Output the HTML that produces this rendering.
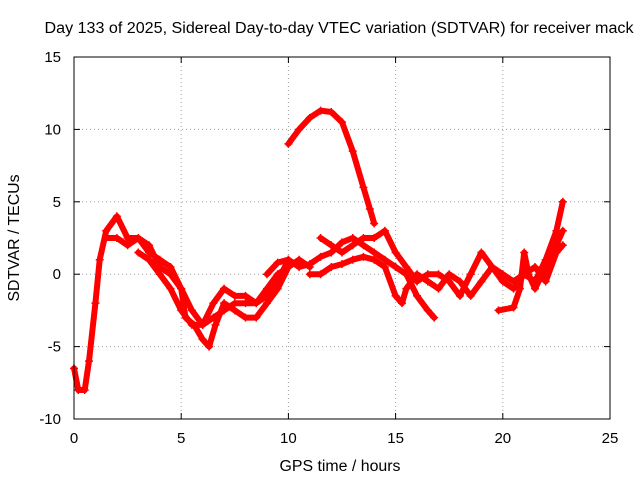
<!DOCTYPE html>
<html><head><meta charset="utf-8"><style>
html,body{margin:0;padding:0;background:#fff;}
svg{display:block;font-family:"Liberation Sans",sans-serif;}
</style></head><body>
<svg id="chart" width="640" height="480">
<text x="339" y="33" font-size="15.5" text-anchor="middle" textLength="589" lengthAdjust="spacingAndGlyphs">Day 133 of 2025, Sidereal Day-to-day VTEC variation (SDTVAR) for receiver mack</text>
<text x="340" y="471" font-size="15.5" text-anchor="middle" textLength="121" lengthAdjust="spacingAndGlyphs">GPS time / hours</text>
<text x="19" y="238" font-size="15.5" text-anchor="middle" textLength="127" lengthAdjust="spacingAndGlyphs" transform="rotate(-90 19 238)">SDTVAR / TECUs</text>
<g id="grid"></g><g id="axes"></g><g id="series"></g>
<rect x="74" y="57" width="536" height="362" fill="none" stroke="#000" stroke-width="1"/>
</svg>
<script>
const xTicks=[0,5,10,15,20,25];
const yTicks=[-10,-5,0,5,10,15];
const traceA_t=[0,0.2,0.5,0.7,1,1.2,1.5,2,2.5,3,3.5,4,4.5,5,5.2,5.6,6,6.3,6.6,7,7.5,8,8.5,9,9.5,10,10.5,11];
const traceA_v=[-6.5,-8,-8,-6,-2,1,3,4,2.5,2.5,1.5,1,0.5,-1,-3,-3.5,-4.5,-5,-3.5,-2,-2.5,-3,-3,-2,-1,0.5,1,0.5];
const traceB_t=[10,10.5,11,11.5,12,12.5,13,13.5,13.8,14];
const traceB_v=[9,10,10.8,11.3,11.2,10.5,8.5,6,4.5,3.5];
const traceC_t=[9,9.5,10,10.5,11,11.5,12,12.5,13,13.5,14,14.5,15,15.5,16,16.5,16.8];
const traceC_v=[0,0.8,1,0.5,0.7,1.2,1.5,2.2,2.5,2,1.5,1,0.5,0,-1.5,-2.5,-3];
const traceD_t=[11.5,12,12.5,13,13.5,14,14.5,15,15.5,16,16.5,17,17.5,18,18.5,19,19.5,20,20.5,21,21.5,22,22.5,22.8];
const traceD_v=[2.5,2,1.5,2,2.5,2.5,3,1.5,0.5,-0.5,0,0,-0.5,-1.5,0,1.5,0.5,-0.5,-1,0,-0.5,1,3,5];
const traceE_t=[11,11.5,12,12.5,13,13.5,14,14.5,15,15.3,15.5,16,16.5,17,17.5,18,18.5,19,19.5,20,20.5,21,21.5,22,22.5,22.8];
const traceE_v=[0,0,0.5,0.7,1,1.2,1,0.5,-1.5,-2,-1,0,-0.5,-1,0,-0.5,-1.5,-0.5,0.5,0,-0.5,0,0.5,-0.5,1.5,2];
const traceF_t=[19.8,20.5,20.8,21,21.2,21.5,22,22.5,22.8];
const traceF_v=[-2.5,-2.3,-1,1.5,0,-1,0.5,2,3];
const traceG_t=[1.5,2,2.5,3,3.5,4,4.5,5,5.5,6,6.5,7,7.5,8,8.5,9,9.5,10];
const traceG_v=[2.5,2.5,2,2.5,2,0.5,0,-1,-2.5,-3.5,-3,-2.5,-2,-2,-2,-1.5,-0.5,1];
const traceH_t=[3,3.5,4,4.5,5,5.5,6,6.5,7,7.5,8,8.5,9,9.5,10];
const traceH_v=[1.5,1,0,-1,-2.5,-3.5,-3.5,-2,-1,-1.5,-1.5,-2,-1,0,0.5];

const NS="http://www.w3.org/2000/svg";
const X0=74,X1=610,Y0=419,Y1=57;
function xs(t){return X0+(t-0)/(25-0)*(X1-X0);}
function ys(v){return Y0-(v+10)/(25)*(Y0-Y1);}
const grid=document.getElementById('grid'),axes=document.getElementById('axes'),ser=document.getElementById('series');
function mk(tag,attrs,parent){const e=document.createElementNS(NS,tag);for(const k in attrs)e.setAttribute(k,attrs[k]);parent.appendChild(e);return e;}
xTicks.forEach(t=>{
  const x=xs(t);
  if(t>0&&t<25){const g=mk('line',{x1:x,x2:x,y1:Y0,y2:Y1,stroke:'#a0a0a0','stroke-dasharray':'1,3'},grid);
  
  }
  mk('line',{x1:x,x2:x,y1:Y0,y2:Y0-6,stroke:'#000'},axes);
  mk('line',{x1:x,x2:x,y1:Y1,y2:Y1+6,stroke:'#000'},axes);
  const l=mk('text',{x:x,y:443,'font-size':15,'text-anchor':'middle'},axes);l.textContent=t;
  
  
});
yTicks.forEach(v=>{
  const y=ys(v);
  if(v>-10&&v<15){const g=mk('line',{x1:X0,x2:X1,y1:y,y2:y,stroke:'#a0a0a0','stroke-dasharray':'1,3'},grid);
  
  }
  mk('line',{x1:X0,x2:X0+6,y1:y,y2:y,stroke:'#000'},axes);
  mk('line',{x1:X1,x2:X1-6,y1:y,y2:y,stroke:'#000'},axes);
  const l=mk('text',{x:61,y:y+5,'font-size':15,'text-anchor':'end'},axes);l.textContent=v;
  
  
});
const traces=[[traceA_t,traceA_v],[traceB_t,traceB_v],[traceC_t,traceC_v],[traceD_t,traceD_v],[traceE_t,traceE_v],[traceF_t,traceF_v],[traceG_t,traceG_v],[traceH_t,traceH_v]];
traces.forEach((tr,i)=>{
  const pts=tr[0].map((t,j)=>xs(t).toFixed(1)+','+ys(tr[1][j]).toFixed(1)).join(' ');
  const p=mk('polyline',{points:pts,fill:'none',stroke:'#f00','stroke-width':6,'stroke-linejoin':'round','stroke-linecap':'round'},ser);
  
  
  tr[0].forEach((t,j)=>{
    const x=xs(t),y=ys(tr[1][j]);
    const m=mk('path',{d:`M${x-4},${y}H${x+4}M${x},${y-4}V${y+4}`,stroke:'#f00','stroke-width':1.5},ser);
    
    
  });
});
</script>
</body></html>
